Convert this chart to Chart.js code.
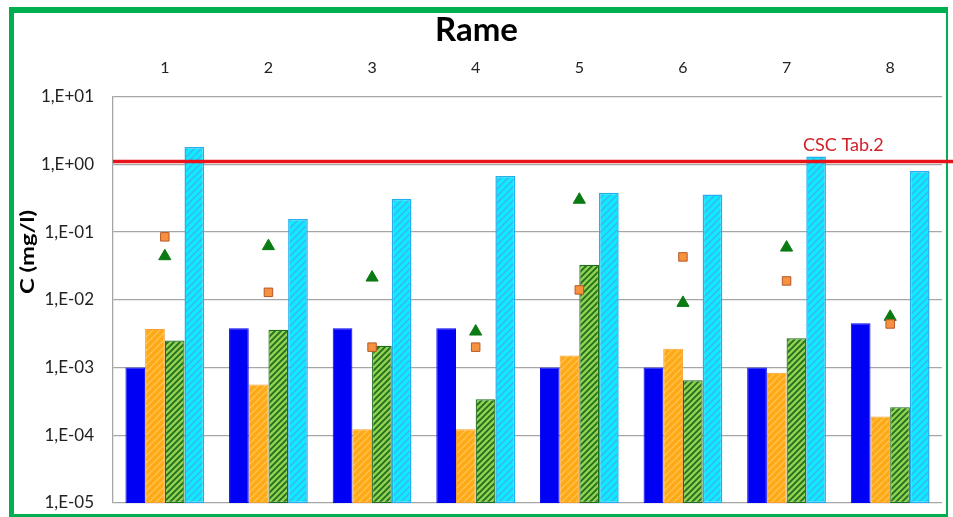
<!DOCTYPE html>
<html>
<head>
<meta charset="utf-8">
<script src="https://cdn.jsdelivr.net/npm/chart.js@4"></script>
<style>
  html, body { margin: 0; padding: 0; background: #ffffff; }
  #wrap { position: relative; width: 953px; height: 517px; overflow: hidden; }
  #frame { position: absolute; left: 9px; top: 7px; width: 939px; height: 510px; box-sizing: border-box;
           border-style: solid; border-color: #00b050; border-width: 6px 2px 3px 5px; }
  #c { position: absolute; left: 0; top: 0; }
</style>
</head>
<body>
<div id="wrap">
  <div id="frame"></div>
  <canvas id="c" width="953" height="517"></canvas>
</div>
<script>
// ---- data ----
const categories = ['1', '2', '3', '4', '5', '6', '7', '8'];
const seriesBlue   = [0.001, 0.0038, 0.0038, 0.0038, 0.001, 0.001, 0.001, 0.0045];
const seriesOrange = [0.0037, 0.00056, 0.000123, 0.000123, 0.0015, 0.0019, 0.00084, 0.00019];
const seriesGreen  = [0.0025, 0.0036, 0.0021, 0.00034, 0.033, 0.00065, 0.0027, 0.00026];
const seriesCyan   = [1.8, 0.156, 0.31, 0.67, 0.38, 0.36, 1.31, 0.80];
const markerSquare   = [0.085, 0.0129, 0.002, 0.002, 0.014, 0.043, 0.019, 0.0044];
const markerTriangle = [0.044, 0.062, 0.0213, 0.0034, 0.30, 0.009, 0.059, 0.0056];
const cscLimit = 1.1;
const cscLabel = 'CSC Tab.2';
const yTickValues = [1e-5, 1e-4, 1e-3, 1e-2, 1e-1, 1e0, 1e1];
const yTickLabels = ['1,E-05', '1,E-04', '1,E-03', '1,E-02', '1,E-01', '1,E+00', '1,E+01'];
const chartTitle = 'Rame';
const yAxisTitle = 'C (mg/l)';

// ---- hatch patterns ----
function hatch(bg, fg, lw, s) {
  const pc = document.createElement('canvas');
  pc.width = s; pc.height = s;
  const g = pc.getContext('2d');
  g.fillStyle = bg; g.fillRect(0, 0, s, s);
  g.strokeStyle = fg; g.lineWidth = lw; g.lineCap = 'square';
  g.beginPath();
  g.moveTo(0, s); g.lineTo(s, 0);
  g.moveTo(-1, 1); g.lineTo(1, -1);
  g.moveTo(s - 1, s + 1); g.lineTo(s + 1, s - 1);
  g.stroke();
  return document.createElement('canvas').getContext('2d').createPattern(pc, 'repeat');
}
const patOrange = hatch('#ffa916', '#ffc95c', 1.2, 7);
const patGreen  = hatch('#92d050', '#1f6e1f', 1.8, 6);
const patCyan   = hatch('#10eaff', '#3ab4ee', 1.4, 7);

const FONT = 'Lato, "Open Sans", sans-serif';

const overlay = {
  id: 'overlay',
  afterDatasetsDraw(chart) {
    const ctx = chart.ctx, y = chart.scales.y, a = chart.chartArea;
    const py = y.getPixelForValue(cscLimit);
    ctx.save();
    ctx.strokeStyle = '#e8141c';
    ctx.lineWidth = 3.5;
    ctx.beginPath();
    ctx.moveTo(a.left, py);
    ctx.lineTo(chart.width, py);
    ctx.stroke();
    ctx.fillStyle = '#d0202a';
    ctx.font = '18px ' + FONT;
    ctx.textAlign = 'left';
    ctx.textBaseline = 'bottom';
    ctx.fillText(cscLabel, 803, py - 7);
    ctx.restore();
  },
  afterDraw(chart) {
    const ctx = chart.ctx;
    ctx.save();
    ctx.translate(28, 252);
    ctx.rotate(-Math.PI / 2);
    ctx.fillStyle = '#000';
    ctx.font = 'bold 18px ' + FONT;
    const w = ctx.measureText(yAxisTitle).width;
    ctx.scale(84 / w, 1);
    ctx.textAlign = 'center';
    ctx.textBaseline = 'middle';
    ctx.fillText(yAxisTitle, 0, 0);
    ctx.restore();
  }
};

new Chart(document.getElementById('c'), {
  type: 'bar',
  data: {
    labels: categories,
    datasets: [
      { type: 'line', label: 'sq', data: markerSquare, showLine: false, order: 0,
        pointStyle: 'rect', pointRadius: 6, pointBackgroundColor: '#f5913f', pointBorderColor: '#b8582a', pointBorderWidth: 1 },
      { type: 'line', label: 'tri', data: markerTriangle, showLine: false, order: 0,
        pointStyle: 'triangle', pointRadius: 7, pointBackgroundColor: '#0a7a12', pointBorderColor: '#0a7a12', pointBorderWidth: 1 },
      { label: 'A', data: seriesBlue, backgroundColor: '#0000f5', borderColor: '#0000f5', borderWidth: 1, order: 1 },
      { label: 'B', data: seriesOrange, backgroundColor: patOrange, borderColor: '#f5a030', borderWidth: 1, order: 1 },
      { label: 'C', data: seriesGreen, backgroundColor: patGreen, borderColor: '#1f6e1f', borderWidth: 1.2, order: 1 },
      { label: 'D', data: seriesCyan, backgroundColor: patCyan, borderColor: '#22b0ee', borderWidth: 1.5, order: 1 }
    ]
  },
  options: {
    responsive: false,
    animation: false,
    events: [],
    layout: { autoPadding: false, padding: { left: 0, right: 0, top: 0, bottom: 14 } },
    datasets: { bar: { categoryPercentage: 0.76, barPercentage: 1.0, borderSkipped: false } },
    plugins: {
      legend: { display: false },
      tooltip: { enabled: false },
      title: { display: true, text: chartTitle, color: '#000',
               font: { family: FONT, size: 33, weight: 'bold' }, padding: { top: 11, bottom: 6 } }
    },
    scales: {
      x: {
        position: 'top',
        grid: { display: false, drawTicks: false },
        border: { display: false },
        ticks: { color: '#222', font: { family: FONT, size: 16 }, padding: 19, maxRotation: 0 },
        afterFit(s) { s.height = 40; }
      },
      y: {
        type: 'logarithmic',
        min: 1e-5, max: 10,
        afterBuildTicks(s) { s.ticks = yTickValues.map(v => ({ value: v })); },
        ticks: {
          color: '#222', font: { family: FONT, size: 17 }, padding: 19,
          callback(v) { const i = yTickValues.findIndex(t => Math.abs(Math.log10(t) - Math.log10(v)) < 1e-6); return i >= 0 ? yTickLabels[i] : null; }
        },
        grid: { color: '#a6a6a6', lineWidth: 1.3, drawTicks: false },
        border: { display: true, color: '#a6a6a6', width: 1.3 },
        afterFit(s) { s.width = 113; s.paddingTop = 0; s.paddingBottom = 0; }
      },
      yRight: {
        type: 'linear',
        position: 'right',
        min: 0, max: 1,
        grid: { display: false, drawTicks: false },
        border: { display: false },
        ticks: { display: false },
        afterFit(s) { s.width = 11; s.paddingTop = 0; s.paddingBottom = 0; }
      }
    }
  },
  plugins: [overlay]
});
</script>
</body>
</html>
